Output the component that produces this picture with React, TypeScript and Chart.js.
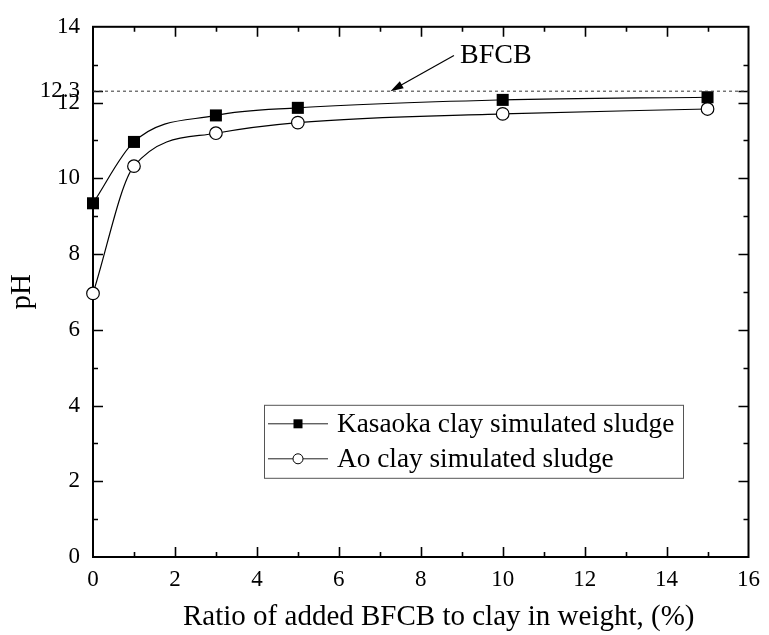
import React, { useEffect, useRef } from 'react';
import { Chart, registerables } from 'chart.js';

Chart.register(...registerables);

// Added BFCB ratio (% by weight) and measured pH of each simulated sludge
const ratios = [0, 1, 3, 5, 10, 15];
const kasaokaPH = [9.34, 10.96, 11.66, 11.86, 12.07, 12.14];
const aoPH = [6.96, 10.32, 11.19, 11.47, 11.7, 11.83];
const seriesNames = ['Kasaoka clay simulated sludge', 'Ao clay simulated sludge'];

// pH of BFCB itself, shown as a dashed reference line
const bfcbPH = 12.3;
const bfcbLabel = 'BFCB';
const bfcbLabelPos = { x: 8.96, y: 13.24 };
const arrowTail = { x: 8.81, y: 13.24 };
const arrowTip = { x: 7.26, y: 12.3 };

const xTitle = 'Ratio of added BFCB to clay in weight, (%)';
const xRange = [0, 16];
const yRange = [0, 14];
const majorStep = 2;

const SERIF = '"Liberation Serif", "Times New Roman", serif';

const framePlugin = {
  id: 'frame',
  beforeDatasetsDraw(chart: any) {
    const { ctx, chartArea: a, scales } = chart;
    const x = scales.x;
    const y = scales.y;
    ctx.save();
    ctx.strokeStyle = '#000';
    ctx.lineWidth = 2;
    ctx.strokeRect(a.left, a.top, a.right - a.left, a.bottom - a.top);
    ctx.lineWidth = 1.6;
    ctx.beginPath();
    for (let v = xRange[0] + 1; v < xRange[1]; v++) {
      const len = v % majorStep === 0 ? 10 : 5;
      const px = Math.round(x.getPixelForValue(v)) + 0.5;
      ctx.moveTo(px, a.bottom);
      ctx.lineTo(px, a.bottom - len);
      ctx.moveTo(px, a.top);
      ctx.lineTo(px, a.top + len);
    }
    const yVals: number[] = [];
    for (let v = yRange[0] + 1; v < yRange[1]; v++) yVals.push(v);
    yVals.push(bfcbPH);
    yVals.forEach((v) => {
      const len = v % majorStep === 0 || v === bfcbPH ? 10 : 5;
      const py = Math.round(y.getPixelForValue(v)) + 0.5;
      ctx.moveTo(a.left, py);
      ctx.lineTo(a.left + len, py);
      ctx.moveTo(a.right, py);
      ctx.lineTo(a.right - len, py);
    });
    ctx.stroke();
    ctx.restore();
  },
  afterDraw(chart: any) {
    const { ctx, chartArea: a, scales } = chart;
    const x = scales.x;
    const y = scales.y;
    ctx.save();

    // x-axis title, set slightly right of the plot centre
    ctx.fillStyle = '#000';
    ctx.font = `29px ${SERIF}`;
    ctx.textAlign = 'center';
    ctx.textBaseline = 'middle';
    ctx.fillText(xTitle, (a.left + a.right) / 2 + 18, a.bottom + 60);

    // BFCB annotation arrow
    const tx = x.getPixelForValue(arrowTail.x);
    const ty = y.getPixelForValue(arrowTail.y);
    const hx = x.getPixelForValue(arrowTip.x);
    const hy = y.getPixelForValue(arrowTip.y);
    const ang = Math.atan2(hy - ty, hx - tx);
    const headLen = 13;
    const headW = 4;
    ctx.strokeStyle = '#000';
    ctx.fillStyle = '#000';
    ctx.lineWidth = 1.2;
    ctx.beginPath();
    ctx.moveTo(tx, ty);
    ctx.lineTo(hx - Math.cos(ang) * headLen * 0.8, hy - Math.sin(ang) * headLen * 0.8);
    ctx.stroke();
    ctx.beginPath();
    ctx.moveTo(hx, hy);
    const bx = hx - Math.cos(ang) * headLen;
    const by = hy - Math.sin(ang) * headLen;
    ctx.lineTo(bx + Math.sin(ang) * headW, by - Math.cos(ang) * headW);
    ctx.lineTo(bx - Math.sin(ang) * headW, by + Math.cos(ang) * headW);
    ctx.closePath();
    ctx.fill();

    ctx.font = `28px ${SERIF}`;
    ctx.textBaseline = 'middle';
    ctx.textAlign = 'left';
    ctx.fillText(bfcbLabel, x.getPixelForValue(bfcbLabelPos.x), y.getPixelForValue(bfcbLabelPos.y));

    // Legend box
    const bl = a.left + 171;
    const bt = a.top + 378;
    const bw = 419;
    const bh = 73;
    ctx.fillStyle = '#fff';
    ctx.fillRect(bl, bt, bw, bh);
    ctx.strokeStyle = '#555';
    ctx.lineWidth = 1;
    ctx.strokeRect(bl + 0.5, bt + 0.5, bw, bh);
    const rows = [bt + 19, bt + 54];
    rows.forEach((ry, i) => {
      ctx.strokeStyle = '#222';
      ctx.lineWidth = 1;
      ctx.beginPath();
      ctx.moveTo(bl + 4, ry);
      ctx.lineTo(bl + 64, ry);
      ctx.stroke();
      const mx = bl + 34;
      if (i === 0) {
        ctx.fillStyle = '#000';
        ctx.fillRect(mx - 4.5, ry - 4.5, 9, 9);
      } else {
        ctx.fillStyle = '#fff';
        ctx.beginPath();
        ctx.arc(mx, ry, 5, 0, Math.PI * 2);
        ctx.fill();
        ctx.strokeStyle = '#000';
        ctx.stroke();
      }
      ctx.fillStyle = '#000';
      ctx.font = `27.3px ${SERIF}`;
      ctx.textBaseline = 'middle';
      ctx.fillText(seriesNames[i], bl + 73, ry + 1);
    });
    ctx.restore();
  },
};

export default function App() {
  const canvasRef = useRef<HTMLCanvasElement>(null);

  useEffect(() => {
    if (!canvasRef.current) return;
    const toPts = (vals: number[]) => ratios.map((r, i) => ({ x: r, y: vals[i] }));
    const chart = new Chart(canvasRef.current, {
      type: 'line',
      data: {
        datasets: [
          {
            label: 'BFCB',
            data: [
              { x: xRange[0], y: bfcbPH },
              { x: xRange[1], y: bfcbPH },
            ],
            borderColor: '#333',
            borderWidth: 1,
            borderDash: [3, 3],
            pointRadius: 0,
            clip: false,
          },
          {
            label: seriesNames[0],
            data: toPts(kasaokaPH),
            borderColor: '#000',
            borderWidth: 1.2,
            cubicInterpolationMode: 'monotone',
            pointStyle: 'rect',
            pointRadius: 8.5,
            pointBackgroundColor: '#000',
            pointBorderColor: '#000',
            pointBorderWidth: 0,
            clip: false,
          },
          {
            label: seriesNames[1],
            data: toPts(aoPH),
            borderColor: '#000',
            borderWidth: 1.2,
            cubicInterpolationMode: 'monotone',
            pointStyle: 'circle',
            pointRadius: 6.3,
            pointBackgroundColor: '#fff',
            pointBorderColor: '#000',
            pointBorderWidth: 1.2,
            clip: false,
          },
        ],
      },
      options: {
        animation: false,
        responsive: false,
        maintainAspectRatio: false,
        layout: { padding: { top: 23, right: 15, left: 0, bottom: 0 } },
        plugins: {
          legend: { display: false },
          tooltip: { enabled: false },
        },
        scales: {
          x: {
            type: 'linear',
            min: xRange[0],
            max: xRange[1],
            grid: { display: false, drawTicks: false, tickLength: 0 },
            border: { display: false },
            ticks: {
              stepSize: majorStep,
              color: '#000',
              padding: 9,
              font: { family: SERIF, size: 23 },
              autoSkip: false,
              maxRotation: 0,
            },
            title: { display: false, text: xTitle },
            afterFit: (s: any) => {
              s.height = 78;
            },
          },
          y: {
            type: 'linear',
            min: yRange[0],
            max: yRange[1],
            grid: { display: false, drawTicks: false, tickLength: 0 },
            border: { display: false },
            ticks: {
              stepSize: majorStep,
              color: '#000',
              padding: 13,
              font: { family: SERIF, size: 23 },
              autoSkip: false,
            },
            afterBuildTicks: (s: any) => {
              const t = s.ticks.slice();
              t.push({ value: bfcbPH });
              t.sort((p: any, q: any) => p.value - q.value);
              s.ticks = t;
            },
            title: {
              display: true,
              text: 'pH',
              color: '#000',
              font: { family: SERIF, size: 29 },
              padding: { top: 5, bottom: 0 },
            },
            afterFit: (s: any) => {
              s.width = 93;
            },
          },
        },
      },
      plugins: [framePlugin],
    } as any);
    return () => chart.destroy();
  }, []);

  return (
    <div style={{ position: 'absolute', left: 0, top: 0, width: 769, height: 635, background: '#fff' }}>
      <canvas ref={canvasRef} width={769} height={635} style={{ display: 'block' }} />
    </div>
  );
}
